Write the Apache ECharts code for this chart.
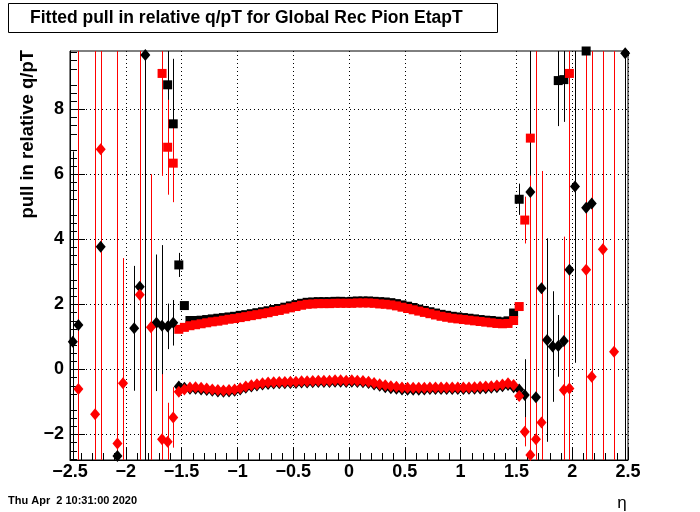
<!DOCTYPE html>
<html><head><meta charset="utf-8">
<script src="https://cdn.jsdelivr.net/npm/echarts@6/dist/echarts.min.js"></script>
<style>html,body{margin:0;padding:0;background:#fff}#c{width:700px;height:512px}</style>
</head><body><div id="c"></div>
<script>
// ---- data ----
const etaCentral = [-1.475,-1.425,-1.375,-1.325,-1.275,-1.225,-1.175,-1.125,-1.075,-1.025,-0.975,-0.925,-0.875,-0.825,-0.775,-0.725,-0.675,-0.625,-0.575,-0.525,-0.475,-0.425,-0.375,-0.325,-0.275,-0.225,-0.175,-0.125,-0.075,-0.025,0.025,0.075,0.125,0.175,0.225,0.275,0.325,0.375,0.425,0.475,0.525,0.575,0.625,0.675,0.725,0.775,0.825,0.875,0.925,0.975,1.025,1.075,1.125,1.175,1.225,1.275,1.325,1.375,1.425,1.475];

const blackSqCentral = [1.96,1.50,1.50,1.51,1.53,1.55,1.57,1.59,1.61,1.63,1.66,1.68,1.71,1.74,1.77,1.80,1.84,1.87,1.91,1.95,1.99,2.03,2.06,2.07,2.08,2.08,2.08,2.09,2.09,2.08,2.09,2.10,2.10,2.10,2.09,2.08,2.07,2.05,2.02,1.98,1.94,1.90,1.85,1.81,1.77,1.73,1.69,1.66,1.63,1.61,1.59,1.57,1.55,1.53,1.51,1.50,1.48,1.46,1.49,1.73];
const redSqCentral = [1.29,1.34,1.37,1.40,1.43,1.46,1.48,1.51,1.54,1.56,1.59,1.62,1.65,1.68,1.71,1.74,1.78,1.81,1.85,1.89,1.93,1.97,2.00,2.01,2.02,2.02,2.02,2.03,2.03,2.03,2.03,2.04,2.04,2.04,2.03,2.01,2.00,1.98,1.95,1.91,1.87,1.83,1.79,1.75,1.71,1.67,1.63,1.60,1.57,1.55,1.53,1.51,1.49,1.47,1.45,1.43,1.41,1.40,1.41,1.50];
const blackDiaCentral = [-0.57,-0.60,-0.60,-0.62,-0.64,-0.66,-0.68,-0.69,-0.68,-0.66,-0.62,-0.57,-0.53,-0.50,-0.47,-0.45,-0.44,-0.43,-0.43,-0.42,-0.42,-0.41,-0.41,-0.40,-0.39,-0.39,-0.39,-0.38,-0.38,-0.39,-0.38,-0.39,-0.40,-0.42,-0.47,-0.51,-0.55,-0.58,-0.60,-0.62,-0.63,-0.63,-0.63,-0.62,-0.61,-0.61,-0.61,-0.61,-0.61,-0.61,-0.61,-0.60,-0.60,-0.59,-0.58,-0.57,-0.55,-0.52,-0.48,-0.55];
const redDiaCentral = [-0.62,-0.56,-0.55,-0.57,-0.59,-0.62,-0.64,-0.65,-0.64,-0.62,-0.58,-0.53,-0.49,-0.46,-0.43,-0.41,-0.40,-0.39,-0.39,-0.38,-0.38,-0.37,-0.37,-0.36,-0.35,-0.35,-0.35,-0.34,-0.34,-0.35,-0.34,-0.35,-0.36,-0.38,-0.42,-0.46,-0.49,-0.52,-0.54,-0.56,-0.57,-0.57,-0.57,-0.57,-0.56,-0.56,-0.56,-0.56,-0.56,-0.56,-0.56,-0.56,-0.55,-0.54,-0.53,-0.52,-0.50,-0.47,-0.43,-0.48];

// outer bins: [eta, value, error]
const blackSqOuter = [[-1.625,8.75,2.0],[-1.575,7.55,2.0],[-1.525,3.21,0.37],[1.525,5.23,0.48],[1.875,8.88,1.4],[1.925,8.91,1.3],[2.125,9.79,3.0]];
const redSqOuter = [[-1.675,9.10,3.15],[-1.625,6.83,1.46],[-1.575,6.34,1.2],[-1.525,1.23,0],[1.525,1.93,0],[1.575,4.59,0.72],[1.625,7.11,1.1],[1.975,9.10,20]];
const blackDiaOuter = [[-2.475,0.85,5.85],[-2.425,1.36,0],[-2.225,3.77,0],[-2.075,-2.67,0],[-1.925,1.26,1.92],[-1.875,2.54,0],[-1.825,9.67,20],[-1.725,1.43,2.1],[-1.675,1.34,2.48],[-1.625,1.32,0.7],[-1.575,1.43,0.7],[-1.525,-0.53,0],
  [1.525,-0.62,0.15],[1.575,-0.79,1.1],[1.625,5.45,5.68],[1.675,-0.86,2.5],[1.725,2.49,0],[1.775,0.90,3.13],[1.825,0.70,1.7],[1.875,0.72,0.95],[1.925,0.87,0.8],[1.975,3.06,20],[2.025,5.62,5.42],[2.125,4.97,0],[2.175,5.10,0],[2.475,9.72,20]];
const redDiaOuter = [[-2.425,-0.61,20],[-2.275,-1.38,20],[-2.225,6.77,20],[-2.075,-2.28,20],[-2.025,-0.43,3.85],[-1.875,2.29,20],[-1.775,1.29,4.71],[-1.675,-2.15,2.0],[-1.625,-2.23,1.2],[-1.575,-1.48,0.93],[-1.525,-0.69,0],
  [1.525,-0.82,0],[1.575,-1.92,0.45],[1.625,-2.64,8.6],[1.675,-2.15,20],[1.725,-1.64,7.74],[1.925,-0.64,4.72],[1.975,-0.59,20],[2.125,3.06,20],[2.175,-0.23,20],[2.275,3.69,20],[2.375,0.54,20]];

const yTickMajor = [-2,0,2,4,6,8];
const yTickMinor = [-2.75,-2.5,-2.25,-1.75,-1.5,-1.25,-0.75,-0.5,-0.25,0.25,0.5,0.75,1.25,1.5,1.75,2.25,2.5,2.75,3.25,3.5,3.75,4.25,4.5,4.75,5.25,5.5,5.75,6.25,6.5,6.75,7.25,7.5,7.75,8.25,8.5,8.75,9.25,9.5,9.75];

const titleText = 'Fitted pull in relative q/pT for Global Rec Pion EtapT';
const yTitle = 'pull in relative q/pT';
const xTitle = 'η';
const dateText = 'Thu Apr  2 10:31:00 2020';

const X_MIN = -2.5, X_MAX = 2.5, Y_MIN = -2.79, Y_MAX = 9.79;
const FONT = "'Liberation Sans', Arial, Helvetica, sans-serif";

function build(central, outer) {
  const pts = [];
  outer.filter(p => p[0] < 0).forEach(p => pts.push(p));
  central.forEach((v, i) => pts.push([etaCentral[i], v, 0]));
  outer.filter(p => p[0] > 0).forEach(p => pts.push(p));
  return pts;
}
const bs = build(blackSqCentral, blackSqOuter);
const rs = build(redSqCentral, redSqOuter);
const bd = build(blackDiaCentral, blackDiaOuter);
const rd = build(redDiaCentral, redDiaOuter);

function errSeries(data, color) {
  return {
    type: 'custom', data: data, silent: true, animation: false,
    encode: {x: 0, y: 1},
    renderItem: function (params, api) {
      const x = api.value(0), y = api.value(1), e = api.value(2);
      if (!(e > 0)) return null;
      const lo = Math.max(y - e, Y_MIN), hi = Math.min(y + e, Y_MAX);
      if (lo >= hi) return null;
      const p1 = api.coord([x, lo]), p2 = api.coord([x, hi]);
      const px = Math.round(p1[0]) + 0.5;
      return {type: 'line', shape: {x1: px, y1: p1[1], x2: px, y2: p2[1]}, style: {stroke: color, lineWidth: 1}};
    }
  };
}
function markSeries(data, color, symbol, size) {
  return {
    type: 'scatter', symbol: symbol, symbolSize: size, clip: false, silent: true, animation: false,
    data: data.filter(p => p[1] >= Y_MIN && p[1] <= Y_MAX + 0.05).map(p => [p[0], p[1]]),
    itemStyle: {color: color, opacity: 1}
  };
}
function yTickSeries(vals, len, grid) {
  return {
    type: 'custom', silent: true, animation: false, z: 1,
    data: vals.map(v => [X_MIN, v]), encode: {x: 0, y: 1},
    renderItem: function (params, api) {
      const v = api.value(1);
      const a = api.coord([X_MIN, v]), b = api.coord([X_MAX, v]);
      const y = Math.round(a[1]) + 0.5;
      const children = [{type: 'line', shape: {x1: a[0], y1: y, x2: a[0] + len, y2: y}, style: {stroke: '#000', lineWidth: 1}}];
      if (grid) children.push({type: 'line', shape: {x1: a[0], y1: y, x2: b[0], y2: y}, style: {stroke: '#000', lineWidth: 1, lineDash: [1, 3]}});
      return {type: 'group', children: children};
    }
  };
}
const minus = v => String(v).replace('-', '\u2212');

const chart = echarts.init(document.getElementById('c'), null, {renderer: 'canvas'});
chart.setOption({
  backgroundColor: '#fff',
  animation: false,
  grid: {left: 70, right: 72, top: 51, bottom: 52, show: true, borderColor: '#000', borderWidth: 1, backgroundColor: 'transparent', containLabel: false, outerBoundsMode: 'none'},
  xAxis: {
    type: 'value', min: X_MIN, max: X_MAX, interval: 0.5,
    axisLine: {show: true, onZero: false, lineStyle: {color: '#000', width: 1}},
    axisTick: {show: true, inside: true, length: 13, lineStyle: {color: '#000'}},
    minorTick: {show: true, splitNumber: 5, length: 7, lineStyle: {color: '#000'}},
    splitLine: {show: true, lineStyle: {color: '#000', type: [1, 3], width: 1}},
    axisLabel: {color: '#000', fontFamily: FONT, fontWeight: 'bold', fontSize: 18, margin: 3, formatter: minus}
  },
  yAxis: {
    type: 'value', min: Y_MIN, max: Y_MAX,
    axisLine: {show: true, onZero: false, lineStyle: {color: '#000', width: 1}},
    axisTick: {show: false},
    splitLine: {show: false},
    axisLabel: {customValues: yTickMajor, color: '#000', fontFamily: FONT, fontWeight: 'bold', fontSize: 18, margin: 6, formatter: minus}
  },
  graphic: [
    {type: 'rect', shape: {x: 8.5, y: 3.5, width: 489, height: 29}, style: {fill: '#fff', stroke: '#000', lineWidth: 1}},
    {type: 'text', x: 30, y: 18, style: {text: titleText, font: "bold 17.5px " + FONT, fill: '#000', textVerticalAlign: 'middle', textAlign: 'left'}},
    {type: 'text', x: 28, y: 50, rotation: Math.PI / 2, style: {text: yTitle, font: "bold 18.5px " + FONT, fill: '#000', textAlign: 'right', textVerticalAlign: 'middle'}},
    {type: 'text', x: 622, y: 503, style: {text: xTitle, font: "17px " + FONT, fill: '#000', textAlign: 'center', textVerticalAlign: 'middle'}},
    {type: 'text', x: 8, y: 501, style: {text: dateText, font: "bold 11px " + FONT, fill: '#000', textAlign: 'left', textVerticalAlign: 'middle'}}
  ],
  series: [
    yTickSeries(yTickMajor, 15, true),
    yTickSeries(yTickMinor, 7, false),
    errSeries(bs, '#000'), markSeries(bs, '#000', 'rect', 9),
    errSeries(rs, '#ff0000'), markSeries(rs, '#ff0000', 'rect', 9),
    errSeries(bd, '#000'), markSeries(bd, '#000', 'diamond', [10, 12]),
    errSeries(rd, '#ff0000'), markSeries(rd, '#ff0000', 'diamond', [10, 12])
  ]
});
</script></body></html>
